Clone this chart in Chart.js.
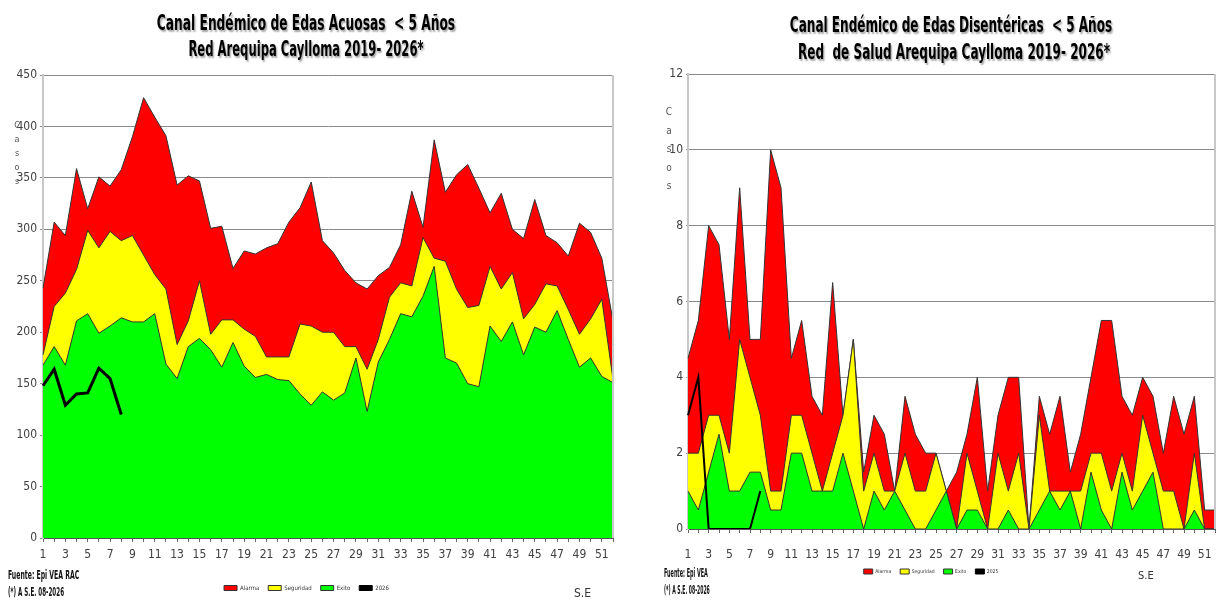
<!DOCTYPE html>
<html lang="es">
<head>
<meta charset="utf-8">
<title>Canal Endémico de EDAs - Red Arequipa Caylloma</title>
<script src="https://cdn.jsdelivr.net/npm/chart.js@4.4.1/dist/chart.umd.min.js"></script>
<style>
  body { margin: 0; width: 1221px; height: 601px; overflow: hidden; background: #fff; position: relative;
         font-family: 'Liberation Sans Narrow', 'Arial Narrow', 'DejaVu Sans Condensed', sans-serif; }
  .caja { position: absolute; top: 0; height: 601px; }
  .titulo { position: absolute; white-space: nowrap; font-weight: bold; font-size: 21px; line-height: 21px;
            color: #000; text-shadow: 2px 2px 2px rgba(0,0,0,0.35); transform-origin: center; }
  .pie { position: absolute; white-space: nowrap; font-weight: bold; color: #111; transform-origin: left; }
  .casos { position: absolute; width: 10px; color: #555; text-align: center; }
  .se { position: absolute; white-space: nowrap; color: #333; }
</style>
</head>
<body>

<!-- Canal 1: EDAs acuosas -->
<div class="caja" style="left:0; width:625px;"><canvas id="graficoAcuosas"></canvas></div>
<div class="titulo" data-centro="306" data-ancho="298" style="top:13px;">Canal Endémico de Edas Acuosas&nbsp; &lt; 5 Años</div>
<div class="titulo" data-centro="306" data-ancho="235" style="top:39px;">Red Arequipa Caylloma 2019- 2026*</div>
<div class="casos" style="left:12px; top:119px; font-size:9px; line-height:13.9px;">C<br>a<br>s<br>o<br>s</div>
<div class="pie" data-ancho="71" style="left:8px; top:568px; font-size:13px; line-height:13px;">Fuente: Epi VEA RAC</div>
<div class="pie" data-ancho="56" style="left:8px; top:585px; font-size:13px; line-height:13px;">(*) A S.E. 08-2026</div>
<div class="se" style="left:574px; top:587px; font-size:12px; line-height:12px;">S.E</div>

<!-- Canal 2: EDAs disentéricas -->
<div class="caja" style="left:640px; width:590px;"><canvas id="graficoDisentericas"></canvas></div>
<div class="titulo" data-centro="951" data-ancho="322" style="top:15px;">Canal Endémico de Edas Disentéricas&nbsp; &lt; 5 Años</div>
<div class="titulo" data-centro="954" data-ancho="312" style="top:42px;">Red&nbsp; de Salud Arequipa Caylloma 2019- 2026*</div>
<div class="casos" style="left:664px; top:103px; font-size:10px; line-height:18.6px;">C<br>a<br>s<br>o<br>s</div>
<div class="pie" data-ancho="44" style="left:664px; top:568px; font-size:11.5px; line-height:11.5px;">Fuente: Epi VEA</div>
<div class="pie" data-ancho="46" style="left:664px; top:585px; font-size:11.5px; line-height:11.5px;">(*) A S.E. 08-2026</div>
<div class="se" style="left:1138px; top:570px; font-size:11px; line-height:11px;">S.E</div>

<script>
// ======================================================
// 1. DATOS
// ======================================================

const semanas = ['1','2','3','4','5','6','7','8','9','10','11','12','13','14','15','16','17','18','19','20',
  '21','22','23','24','25','26','27','28','29','30','31','32','33','34','35','36','37','38','39','40',
  '41','42','43','44','45','46','47','48','49','50','51','52'];

// EDAs acuosas
const alarmaAcuosas = [243, 307, 294, 359, 320, 351, 342, 358, 390, 428, 409, 391, 343, 352, 347, 301, 303, 262,
  279, 276, 282, 286, 307, 321, 346, 289, 277, 260, 248, 242, 255, 263, 285, 337, 302, 387, 336, 353, 363, 340,
  316, 335, 300, 291, 329, 294, 287, 274, 306, 297, 272, 211];
const seguridadAcuosas = [178, 225, 238, 261, 299, 282, 298, 289, 294, 275, 256, 242, 188, 211, 250, 198, 212, 212,
  203, 196, 176, 176, 176, 208, 206, 200, 200, 186, 186, 164, 193, 234, 248, 245, 292, 272, 269, 242, 224, 226,
  264, 242, 258, 213, 227, 247, 245, 222, 198, 213, 232, 154];
const exitoAcuosas = [168, 186, 168, 211, 218, 199, 206, 214, 210, 210, 218, 169, 155, 186, 194, 183, 166, 190,
  167, 156, 159, 154, 153, 140, 129, 142, 134, 141, 175, 123, 171, 193, 218, 215, 235, 264, 175, 170, 150, 147,
  206, 191, 210, 178, 205, 200, 221, 193, 166, 175, 157, 151];
const casos2026Acuosas = [148, 164, 129, 140, 141, 165, 155, 120];

// EDAs disentéricas
const alarmaDisentericas = [4.5, 5.5, 8, 7.5, 5, 9, 5, 5, 10, 9, 4.5, 5.5, 3.5, 3, 6.5, 3, 5, 1.5, 3, 2.5,
  1, 3.5, 2.5, 2, 2, 1, 1.5, 2.5, 4, 1, 3, 4, 4, 0, 3.5, 2.5, 3.5, 1.5, 2.5, 4,
  5.5, 5.5, 3.5, 3, 4, 3.5, 2, 3.5, 2.5, 3.5, 0.5, 0.5];
const seguridadDisentericas = [2, 2, 3, 3, 2, 5, 4, 3, 1, 1, 3, 3, 2, 1, 2, 3, 5, 1, 2, 1,
  1, 2, 1, 1, 2, 1, 0, 2, 1, 0, 2, 1, 2, 0, 3, 1, 1, 1, 1, 2,
  2, 1, 2, 1, 3, 2, 1, 1, 0, 2, 0, 0];
const exitoDisentericas = [1, 0.5, 1.5, 2.5, 1, 1, 1.5, 1.5, 0.5, 0.5, 2, 2, 1, 1, 1, 2, 1, 0, 1, 0.5,
  1, 0.5, 0, 0, 0.5, 1, 0, 0.5, 0.5, 0, 0, 0.5, 0, 0, 0.5, 1, 0.5, 1, 0, 1.5,
  0.5, 0, 1.5, 0.5, 1, 1.5, 0, 0, 0, 0.5, 0, 0];
const casos2025Disentericas = [3, 4, 0, 0, 0, 0, 0, 1];

const ticksAcuosas = { max: 450, paso: 50 };
const ticksDisentericas = { max: 12, paso: 2 };

// ======================================================
// 2. AJUSTE DE TEXTOS (letra angosta como en el original)
// ======================================================

document.querySelectorAll('.titulo').forEach(el => {
  const k = Number(el.dataset.ancho) / el.offsetWidth;
  el.style.left = el.dataset.centro + 'px';
  el.style.transform = `translateX(-50%) scaleX(${k})`;
});
document.querySelectorAll('.pie').forEach(el => {
  const k = Number(el.dataset.ancho) / el.offsetWidth;
  el.style.transform = `scaleX(${k})`;
});

// ======================================================
// 3. GRÁFICOS
// ======================================================

Chart.defaults.font.family = "'Liberation Sans Narrow', 'Arial Narrow', 'DejaVu Sans Condensed', sans-serif";

// linea gris del borde derecho del area del grafico
const bordeDerecho = {
  id: 'bordeDerecho',
  afterDraw(chart) {
    const { ctx, chartArea } = chart;
    ctx.save();
    ctx.strokeStyle = '#c8c8c8';
    ctx.lineWidth = 2;
    ctx.beginPath();
    ctx.moveTo(chartArea.right, chartArea.top);
    ctx.lineTo(chartArea.right, chartArea.bottom);
    ctx.stroke();
    ctx.restore();
  }
};

function montarCanal(idCanvas, p) {
  const ctx = document.getElementById(idCanvas);
  if (!ctx) return;

  return new Chart(ctx, {
    type: 'line',
    data: {
      labels: semanas,
      // el orden importa: el ultimo se dibuja primero (Alarma queda al fondo)
      datasets: [
        { label: p.etiquetaLinea, data: p.linea, borderColor: '#000', backgroundColor: '#000',
          borderWidth: p.grosorLinea, fill: false },
        { label: 'Exito', data: p.exito, borderColor: '#333', backgroundColor: '#00ff00', borderWidth: 1, fill: 'origin' },
        { label: 'Seguridad', data: p.seguridad, borderColor: '#333', backgroundColor: '#ffff00', borderWidth: 1, fill: 'origin' },
        { label: 'Alarma', data: p.alarma, borderColor: '#333', backgroundColor: '#ff0000', borderWidth: 1, fill: 'origin' }
      ]
    },
    options: {
      responsive: true,
      maintainAspectRatio: false,
      animation: false,
      elements: { point: { radius: 0 }, line: { tension: 0 } },
      layout: { padding: p.margen },
      plugins: {
        title: { display: false },
        tooltip: { enabled: false },
        legend: {
          position: 'bottom',
          reverse: true,
          labels: {
            boxWidth: p.cajaLeyenda,
            boxHeight: 5,
            padding: 9,
            color: '#333',
            font: { size: p.letraLeyenda },
            generateLabels(chart) {
              const items = Chart.defaults.plugins.legend.labels.generateLabels(chart);
              items.forEach(it => { it.lineWidth = 1; });
              return items;
            }
          }
        }
      },
      scales: {
        x: {
          grid: { display: true, drawOnChartArea: false, tickLength: 4, color: '#666' },
          border: { color: '#555' },
          ticks: {
            autoSkip: false, maxRotation: 0, padding: p.padX, color: '#404040', font: { size: 12 },
            callback: (v, i) => (i % 2 === 0 ? semanas[i] : '')
          },
          afterFit(s) { s.height = p.altoX; }
        },
        y: {
          min: 0,
          max: p.ticks.max,
          grid: { color: '#8a8a8a', tickLength: p.marcaY },
          border: { color: '#c8c8c8', width: 2 },
          ticks: { stepSize: p.ticks.paso, padding: 3, color: '#404040', font: { size: 12 } },
          afterFit(s) { s.width = p.anchoY; }
        }
      }
    },
    plugins: [bordeDerecho]
  });
}

montarCanal('graficoAcuosas', {
  alarma: alarmaAcuosas, seguridad: seguridadAcuosas, exito: exitoAcuosas,
  linea: casos2026Acuosas, etiquetaLinea: '2026', grosorLinea: 3,
  ticks: ticksAcuosas,
  margen: { top: 75, right: 12, bottom: 0, left: 0 },
  anchoY: 43, altoX: 38, padX: 6, marcaY: 3,
  cajaLeyenda: 13, letraLeyenda: 6
});

montarCanal('graficoDisentericas', {
  alarma: alarmaDisentericas, seguridad: seguridadDisentericas, exito: exitoDisentericas,
  linea: casos2025Disentericas, etiquetaLinea: '2025', grosorLinea: 2,
  ticks: ticksDisentericas,
  margen: { top: 74, right: 8, bottom: 17, left: 0 },
  anchoY: 48, altoX: 31, padX: 15, marcaY: 2,
  cajaLeyenda: 9, letraLeyenda: 5
});
</script>
</body>
</html>
